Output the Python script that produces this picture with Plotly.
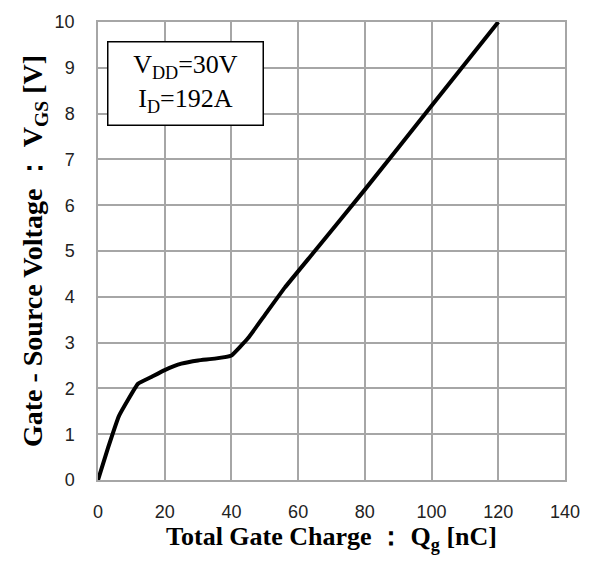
import plotly.graph_objects as go

qg = [0, 3, 6.3, 12, 16, 20, 25, 30, 35, 40, 45, 50, 56, 65, 80, 100, 120]
vgs = [0, 0.7, 1.4, 2.1, 2.25, 2.4, 2.54, 2.61, 2.65, 2.72, 3.1, 3.6, 4.2, 5.0, 6.34, 8.17, 10.0]

x_ticks = [0, 20, 40, 60, 80, 100, 120, 140]
y_ticks = list(range(0, 11))

fig = go.Figure()
fig.add_trace(go.Scatter(x=qg, y=vgs, mode="lines",
                         line=dict(color="black", width=4, shape="spline", smoothing=0.3),
                         showlegend=False))

grid = "#a6a6a6"
fig.update_layout(
    width=599, height=563,
    margin=dict(l=98, r=34, t=14, b=83),
    paper_bgcolor="white", plot_bgcolor="white",
    font=dict(family="Liberation Sans", size=18, color="#222"),
    xaxis=dict(range=[0, 140], tickvals=x_ticks, showgrid=True, gridcolor=grid, gridwidth=1.5,
               zeroline=False, showline=True, linecolor=grid, linewidth=1.5, mirror=True,
               ticks="", ticklabelstandoff=15,
               title=dict(text="<b>Total Gate Charge ： Q<sub>g</sub> [nC]</b>",
                          font=dict(family="Liberation Serif", size=26, color="black"),
                          standoff=1)),
    yaxis=dict(range=[0, 10], tickvals=y_ticks, showgrid=True, gridcolor=grid, gridwidth=1.5,
               zeroline=False, showline=True, linecolor=grid, linewidth=1.5, mirror=True,
               ticks="", ticklabelstandoff=18,
               title=dict(text="<b>Gate - Source Voltage ： V<sub>GS</sub> [V]</b>",
                          font=dict(family="Liberation Serif", size=28, color="black"),
                          standoff=4)),
)

fig.add_annotation(x=0.019, y=0.959, xref="paper", yref="paper", xanchor="left", yanchor="top",
                   text="V<sub>DD</sub>=30V<br>I<sub>D</sub>=192A", showarrow=False,
                   align="center", width=140, height=68,
                   font=dict(family="Liberation Serif", size=26, color="black"),
                   bordercolor="black", borderwidth=1.5, bgcolor="white",
                   borderpad=7)

fig.write_html("out.html")
